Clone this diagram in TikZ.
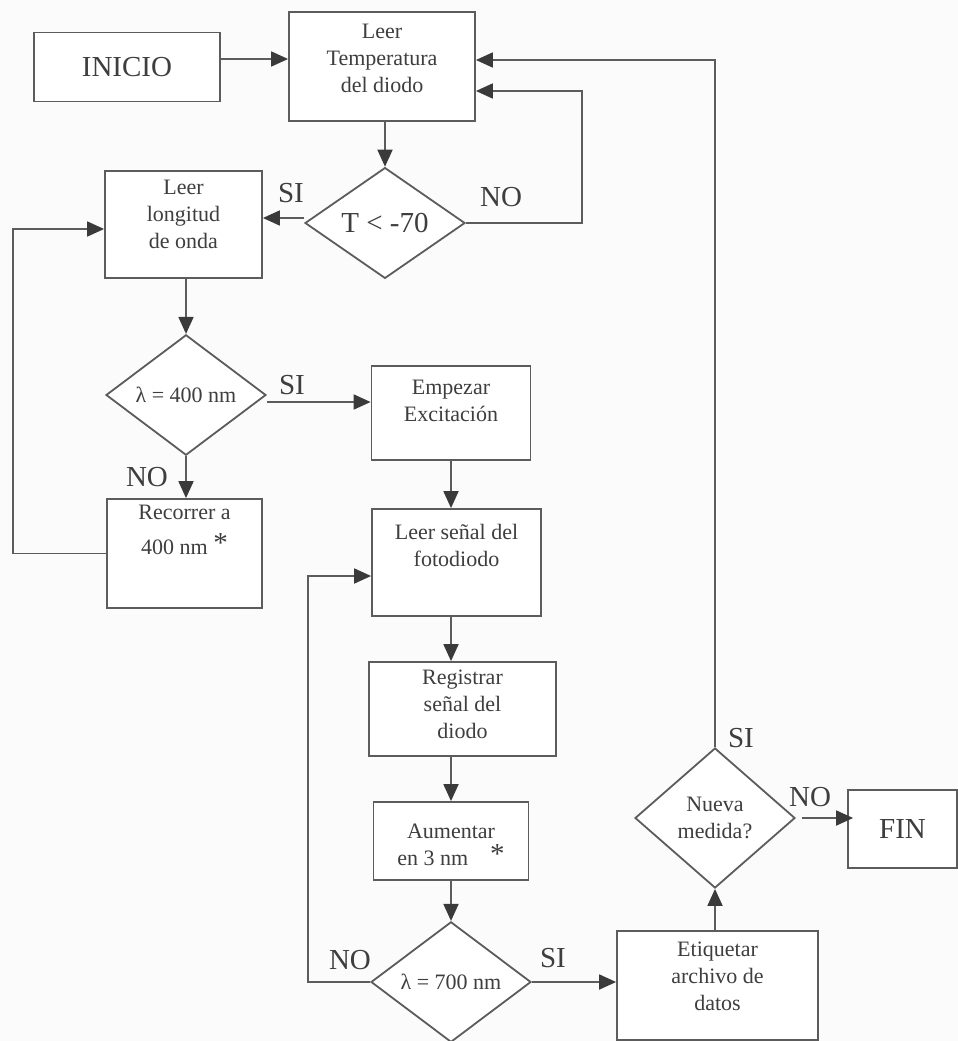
\documentclass[tikz,border=0pt]{standalone}
\usepackage{fontspec}
\setmainfont{Liberation Serif}
\usetikzlibrary{arrows.meta,shapes.geometric,calc}

\definecolor{linegray}{HTML}{5C5C5C}
\definecolor{tipgray}{HTML}{3A3A3A}
\definecolor{textgray}{HTML}{3E3E3E}
\definecolor{paper}{HTML}{FBFBFB}
\newcommand{\smalltxt}{\fontsize{22}{27}\selectfont}
\newcommand{\bigtxt}{\fontsize{29}{34}\selectfont}

\begin{document}
\begin{tikzpicture}[
    x=1pt, y=-1pt,
    box/.style={draw=linegray, line width=1.8pt, fill=white, inner sep=0pt, text=textgray},
    txt/.style={anchor=north, align=center, inner sep=0pt, font=\smalltxt, text=textgray, yshift=-#1},
    txt/.default=10pt,
    cond/.style={diamond, draw=linegray, line width=1.8pt, fill=white, inner sep=1pt, align=center, text=textgray, minimum width=160pt},
    lbl/.style={font=\bigtxt, text=textgray, inner sep=0pt},
    arrow/.style={draw=linegray, line width=1.8pt, -{Triangle[length=17pt, width=15pt, color=tipgray]}}
]
\fill[paper] (0,0) rectangle (958,1041);
\useasboundingbox (0,0) rectangle (958,1041);

\node[box, minimum width=186pt, minimum height=69pt, font=\bigtxt] (inicio) at (127,67) {INICIO};
\node[box, minimum width=186pt, minimum height=109pt, label={[txt=12.5pt]north:Leer\\Temperatura\\del diodo}] (leertemp) at (382,66.5) {};
\node[cond, minimum height=108pt, font=\bigtxt] (tcond) at (385,223) {T < -70};
\node[box, minimum width=157pt, minimum height=107pt, label={[txt=9.5pt]north:Leer\\longitud\\de onda}] (leerlong) at (183.5,224.5) {};
\node[cond, minimum height=106pt, font=\smalltxt] (c400) at (186,395) {λ = 400 nm};
\node[box, minimum width=155pt, minimum height=109pt, label={[txt=6.5pt]north:Recorrer a\\[8pt]400 nm \raisebox{2pt}{\bigtxt *}}] (recorrer) at (184.5,553.5) {};
\node[box, minimum width=159pt, minimum height=94pt, label={[txt=14.5pt]north:Empezar\\Excitación}] (empezar) at (451,413) {};
\node[box, minimum width=169pt, minimum height=107pt, label={[txt=15.5pt]north:Leer señal del\\fotodiodo}] (leersenal) at (456.5,562.5) {};
\node[box, minimum width=187pt, minimum height=94pt, label={[txt=8.5pt]north:Registrar\\señal del\\diodo}] (registrar) at (462.5,709) {};
\node[box, minimum width=155pt, minimum height=78pt, label={[txt=22.5pt]north:Aumentar\\en 3 nm\quad\raisebox{2pt}{\bigtxt *}}] (aumentar) at (451,841) {};
\node[cond, minimum height=104pt, font=\smalltxt] (c700) at (451,982) {λ = 700 nm};
\node[box, minimum width=201pt, minimum height=109pt, label={[txt=11.5pt]north:Etiquetar\\archivo de\\datos}] (etiquetar) at (717.5,985.5) {};
\node[cond, minimum height=140pt, font=\smalltxt] (nueva) at (715,818) {Nueva\\medida?};
\node[box, minimum width=109pt, minimum height=78pt, font=\bigtxt] (fin) at (902.5,829) {FIN};

% SI / NO
\node[lbl] (tsi) at (291,193) {SI};
\node[lbl] (tno) at (501,197) {NO};
\node[lbl] (lsi) at (292,385) {SI};
\node[lbl] (lno) at (147,477) {NO};
\node[lbl] (fno) at (350,960) {NO};
\node[lbl] (fsi) at (553,958) {SI};
\node[lbl] (nsi) at (741,738) {SI};
\node[lbl] (nno) at (810,797) {NO};

\coordinate (ret) at (715,60);
\coordinate (noloop) at (582,91);
\coordinate (loopa) at (13,229);
\coordinate (loopb) at (308,576);

\draw[arrow] ([yshift=8pt]inicio.east) -- ([yshift=8pt]inicio.east -| leertemp.west);
\draw[arrow] (leertemp.south -| tcond) -- (tcond.north);
\draw[arrow] ([yshift=5pt]tcond.west) -- ([yshift=5pt]tcond.west -| leerlong.east);
\draw[arrow] (tcond.east) -| (noloop) -- (noloop -| leertemp.east);
\draw[arrow] (leerlong.south -| c400) -- (c400.north);
\draw[arrow] ($(c400.east)+(0,7)$) -- ($(c400.east -| empezar.west)+(0,7)$);
\draw[arrow] (c400.south) -- (c400.south |- recorrer.north);
\draw[arrow] (recorrer.west) -| (loopa) -- (loopa -| leerlong.west);
\draw[arrow] (empezar) -- (empezar |- leersenal.north);
\draw[arrow] (leersenal.south -| empezar) -- (registrar.north -| empezar);
\draw[arrow] (registrar.south -| empezar) -- (aumentar.north);
\draw[arrow] (aumentar) -- (c700);
\draw[arrow] (c700.west) -| (loopb) -- (loopb -| leersenal.west);
\draw[arrow] (c700.east) -- (c700.east -| etiquetar.west);
\draw[arrow] (etiquetar.north -| nueva) -- (nueva.south);
\draw[arrow] ([xshift=6pt]nueva.east) -- ([xshift=6pt]nueva.east -| fin.west);
% vuelta al inicio
\draw[arrow] (nueva.north) -- (ret) -- (ret -| leertemp.east);
\end{tikzpicture}
\end{document}
